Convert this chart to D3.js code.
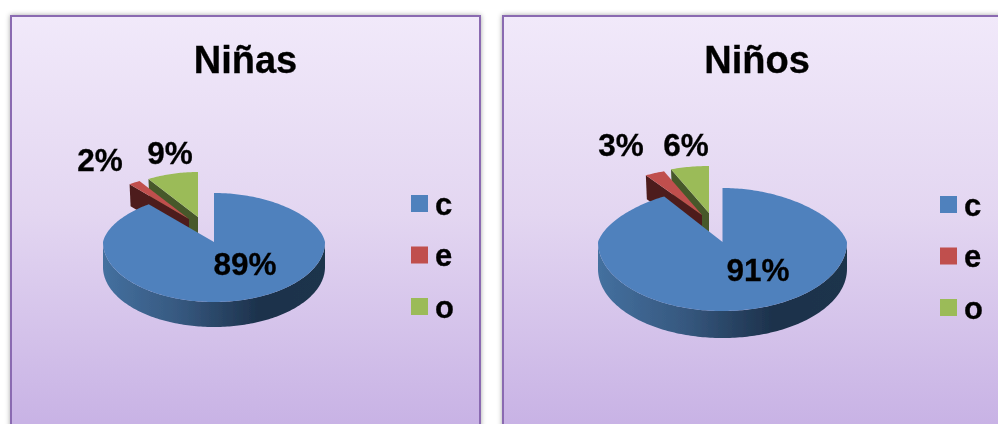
<!DOCTYPE html>
<html>
<head>
<meta charset="utf-8">
<script src="https://d3js.org/d3.v7.min.js"></script>
<style>
  html, body { margin: 0; padding: 0; background: #fff; overflow: hidden; }
  text { font-family: "Liberation Sans", Arial, sans-serif; font-weight: bold; fill: #000; stroke: #000; stroke-width: 0.3px; }
</style>
</head>
<body>
<svg id="chart" width="998" height="424"></svg>
<script>
const categories = ['c', 'e', 'o'];
const ninasValues = [89, 2, 9];
const ninosValues = [91, 3, 6];
const sliceColors = ['#4f81bd', '#c0504d', '#9bbb59'];
const wallColors = ['#34567f', '#4e1f1d', '#47592a'];

// layout of each panel
const panels = [
  {
    title: 'Niñas', values: ninasValues, x: 11, w: 469, titleX: 245.5, titleY: 73,
    apex: [214, 242], rx: 111, back: 49, front: 60, depth: 25, squeeze: 0.1,
    // exploded slices: own apex and radii
    small: { 1: [189, 219], 2: [198, 217], rx: 101, ry: 45, depth: 22 },
    labels: [[245, 275], [100, 171], [170, 164]],
    legendX: 411, legendShift: 0
  },
  {
    title: 'Niños', values: ninosValues, x: 503, w: 520, titleX: 757, titleY: 73,
    apex: [722.5, 242], rx: 124.5, back: 54, front: 69, depth: 27, squeeze: 0.15,
    small: { 1: [702, 215], 2: [709, 213], rx: 120, ry: 47, depth: 24 },
    labels: [[758, 281], [621, 156], [686, 156]],
    legendX: 940, legendShift: 1
  }
];

const svg = d3.select('#chart');
const defs = svg.append('defs');

const bg = defs.append('linearGradient').attr('id', 'panelBg').attr('x1', 0).attr('y1', 0).attr('x2', 0).attr('y2', 1);
bg.append('stop').attr('offset', '0%').attr('stop-color', '#f1e9fa');
bg.append('stop').attr('offset', '45%').attr('stop-color', '#e3d6f1');
bg.append('stop').attr('offset', '100%').attr('stop-color', '#c4ade3');

const shadow = defs.append('filter').attr('id', 'shadow').attr('x', '-5%').attr('y', '-5%').attr('width', '110%').attr('height', '110%');
shadow.append('feDropShadow').attr('dx', 0).attr('dy', 0).attr('stdDeviation', 2.5).attr('flood-color', '#000').attr('flood-opacity', 0.35);

// the reference is a slightly soft upscaled image
const soft = defs.append('filter').attr('id', 'soft');
soft.append('feGaussianBlur').attr('stdDeviation', 0.45);

const color = d3.scaleOrdinal().domain(categories).range(sliceColors);
const wall = d3.scaleOrdinal().domain(categories).range(wallColors);
const legendY = d3.scalePoint().domain(categories).range([203.5, 306.5]);
const pie = d3.pie().sort(null).value(d => d);
const line = d3.line();

function arcAngles(a0, a1) {
  const n = Math.max(2, Math.ceil((a1 - a0) / 0.02));
  return d3.range(n + 1).map(i => a0 + (a1 - a0) * i / n);
}

panels.forEach((p, idx) => {
  const g = svg.append('g');

  g.append('rect')
    .attr('x', p.x).attr('y', 16).attr('width', p.w).attr('height', 440)
    .attr('fill', 'url(#panelBg)')
    .attr('stroke', '#8a6bb1').attr('stroke-width', 2)
    .attr('filter', 'url(#shadow)');

  const content = g.append('g').attr('filter', 'url(#soft)');

  content.append('text')
    .attr('x', p.titleX).attr('y', p.titleY)
    .attr('text-anchor', 'middle').attr('font-size', 38)
    .text(p.title);

  // angle -> screen point, pie is tilted so the back half is flatter than the front
  const project = (a, apex, rx, back, front) => {
    const c = Math.cos(a);
    const s = Math.sin(a);
    return [
      apex[0] + rx * s * (1 - p.squeeze * Math.max(0, c)),
      apex[1] - (c > 0 ? back : front) * c
    ];
  };

  const arcs = pie(p.values);
  const main = arcs[0];

  // small exploded slices first, green behind red
  [2, 1].forEach(i => {
    const d = arcs[i];
    const apex = p.small[i];
    const pt = a => project(a, apex, p.small.rx, p.small.ry, p.small.ry);
    const outer = pt(d.startAngle);
    content.append('path')
      .attr('d', line([outer, apex, [apex[0], apex[1] + p.small.depth], [outer[0] + 1, outer[1] + p.small.depth]]) + 'Z')
      .attr('fill', wall(categories[i]));
    content.append('path')
      .attr('d', line([apex].concat(arcAngles(d.startAngle, d.endAngle).map(pt))) + 'Z')
      .attr('fill', color(categories[i]));
  });

  // big slice: rim then top
  const pt = a => project(a, p.apex, p.rx, p.back, p.front);
  const rimAngles = arcAngles(Math.PI / 2, Math.PI * 1.5);
  const rimTop = rimAngles.map(pt);
  const rimBottom = rimTop.map(q => [q[0], q[1] + p.depth]).reverse();

  const rimId = 'rim' + idx;
  const rimGrad = defs.append('linearGradient').attr('id', rimId)
    .attr('gradientUnits', 'userSpaceOnUse')
    .attr('x1', p.apex[0] - p.rx).attr('x2', p.apex[0] + p.rx).attr('y1', 0).attr('y2', 0);
  rimGrad.append('stop').attr('offset', '0%').attr('stop-color', '#44709f');
  rimGrad.append('stop').attr('offset', '35%').attr('stop-color', '#36587f');
  rimGrad.append('stop').attr('offset', '70%').attr('stop-color', '#1d324c');
  rimGrad.append('stop').attr('offset', '100%').attr('stop-color', '#1f344c');

  content.append('path')
    .attr('d', line(rimTop.concat(rimBottom)) + 'Z')
    .attr('fill', `url(#${rimId})`);

  content.append('path')
    .attr('d', line([p.apex].concat(arcAngles(main.startAngle, main.endAngle).map(pt))) + 'Z')
    .attr('fill', color(categories[0]));

  // data labels
  content.selectAll('.pct').data(p.values).enter().append('text')
    .attr('class', 'pct')
    .attr('x', (d, i) => p.labels[i][0])
    .attr('y', (d, i) => p.labels[i][1])
    .attr('text-anchor', 'middle').attr('font-size', 31.5)
    .text(d => d + '%');

  // legend
  const legend = content.selectAll('.legend').data(categories).enter().append('g').attr('class', 'legend');
  legend.append('rect')
    .attr('x', p.legendX).attr('y', d => legendY(d) - 8.5 + p.legendShift)
    .attr('width', 17).attr('height', 17)
    .attr('fill', d => color(d));
  legend.append('text')
    .attr('x', p.legendX + 24).attr('y', d => legendY(d) + 11 + p.legendShift)
    .attr('font-size', 31)
    .text(d => d);
});
</script>
</body>
</html>
